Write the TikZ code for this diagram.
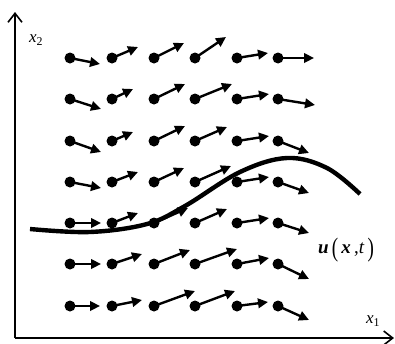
\documentclass[tikz,border=0pt]{standalone}
\usepackage{fontspec}
\setmainfont{Liberation Serif}
\usepackage{graphicx}
\usetikzlibrary{arrows.meta,calc}
\tikzset{
  dot/.style={circle,fill=black,inner sep=0pt,minimum size=11pt},
  vec/.style={line width=2.4pt,-{Triangle[length=10pt,width=9.5pt]}},
  axis/.style={line width=1.8pt,-{Straight Barb[length=9pt,width=14pt,line width=1.6pt]}},
  wave/.style={line width=4.4pt},
  lbl/.style={inner sep=0pt,font=\fontsize{17}{19}\selectfont}
}
\begin{document}
\begin{tikzpicture}[x=1pt,y=-1pt]
\useasboundingbox (0,0) rectangle (395,343);
\clip (0,0) rectangle (395,343);
% axes
\coordinate (o) at (15,338);
\coordinate (ytop) at (15,12);
\coordinate (xend) at (394,338);
\draw[axis] (o) -- (ytop);
\draw[axis] (o) -- (xend);
\node[lbl] (lx2) at (36,40) {\textit{x}\textsubscript{2}};
\node[lbl] (lx1) at (373,321) {\textit{x}\textsubscript{1}};
% curve
\draw[wave] plot[smooth,tension=0.6] coordinates {(30,229) (90,232) (147,224) (185,206) (240,172) (287,158) (327,168) (360,194)};
% vectors
\foreach \r/\y/\vs in {
 1/58/{30/6,26/-11,30/-15,31/-21,31/-5,36/0},
 2/99/{31/10,21/-10,31/-15,37/-15,32/-5,37/6},
 3/141/{31/11,21/-9,31/-15,32/-14,32/-5,31/12},
 4/182/{31/6,26/-10,30/-14,36/-16,32/-5,31/11},
 5/223/{31/0,26/-10,34/-15,32/-14,32/-5,31/10},
 6/264/{31/0,30/-10,36/-14,42/-15,32/-6,31/15},
 7/306/{30/0,30/-6,41/-15,40/-15,31/-4,31/14}}{
  \foreach \dx/\dy [count=\c] in \vs {
    \pgfmathsetmacro{\xx}{{70,112,154,195,237,278}[\c-1]}
    \node[dot] (d-\r-\c) at (\xx,\y) {};
    \coordinate (t-\r-\c) at ($(d-\r-\c.center)+(\dx,\dy)$);
    \draw[vec] (d-\r-\c.center) -- (t-\r-\c);
  }
}
% label
\node[lbl,font=\fontsize{19}{21}\selectfont] (u) at (346,250) {\textbf{\textit{u}}\,\raisebox{-2.6pt}{\scalebox{1}[1.4]{(}}\,\textbf{\textit{x}}\,,\textit{t}\,\raisebox{-2.6pt}{\scalebox{1}[1.4]{)}}};
\end{tikzpicture}
\end{document}
